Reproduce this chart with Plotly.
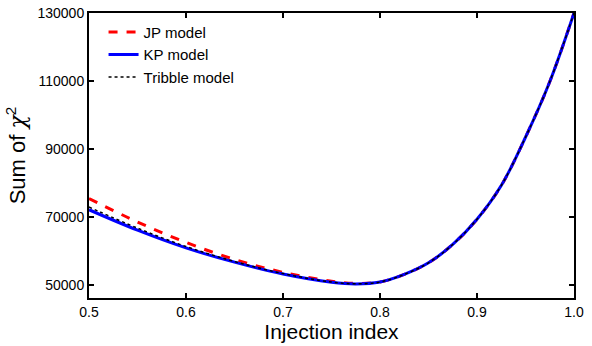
import plotly.graph_objects as go

x_vals = [0.50, 0.55, 0.60, 0.65, 0.70, 0.75, 0.775, 0.80, 0.825, 0.85, 0.875, 0.90, 0.925, 0.95, 0.975, 1.00]
kp_vals = [72200, 66200, 61000, 56800, 53300, 50900, 50400, 50950, 53200, 56600, 62000, 69400, 79300, 93500, 109800, 130000]
jp_vals = [75500, 68600, 62600, 57600, 53800, 51200, 50550, 51000, 53200, 56600, 62000, 69400, 79300, 93500, 109800, 130000]
tribble_vals = [73000, 66800, 61400, 57000, 53450, 50950, 50420, 50950, 53200, 56600, 62000, 69400, 79300, 93500, 109800, 130000]

y_ticks = [50000, 70000, 90000, 110000, 130000]
x_ticks = [0.5, 0.6, 0.7, 0.8, 0.9, 1.0]

fig = go.Figure()
fig.add_trace(go.Scatter(x=x_vals, y=jp_vals, mode="lines", name="JP model",
                         line=dict(color="#ff0000", width=3, dash="dash", shape="spline")))
fig.add_trace(go.Scatter(x=x_vals, y=kp_vals, mode="lines", name="KP model",
                         line=dict(color="#0000ff", width=3, shape="spline")))
fig.add_trace(go.Scatter(x=x_vals, y=tribble_vals, mode="lines", name="Tribble model",
                         line=dict(color="#000000", width=1.5, dash="dot", shape="spline")))

axis_common = dict(showline=True, linecolor="black", linewidth=2, mirror="ticks",
                   ticks="inside", ticklen=5, tickwidth=1.5, tickcolor="black",
                   showgrid=False, zeroline=False, automargin=False,
                   tickfont=dict(family="Liberation Sans, Arial", size=14, color="black"))

fig.update_layout(
    width=592, height=346,
    margin=dict(l=89, r=18, t=13, b=48),
    paper_bgcolor="white", plot_bgcolor="white",
    font=dict(family="Liberation Sans, Arial", color="black"),
    showlegend=True,
    legend=dict(x=0.03, y=0.99, xanchor="left", yanchor="top",
                bgcolor="rgba(0,0,0,0)", borderwidth=0,
                font=dict(size=15, color="black"), tracegroupgap=0),
    xaxis=dict(range=[0.5, 1.0], tickvals=x_ticks, ticktext=[f"{v:.1f}" for v in x_ticks],
               title=dict(text="Injection index", font=dict(size=21), standoff=2),
               **axis_common),
    yaxis=dict(range=[46270, 130000], tickvals=y_ticks, ticktext=[str(v) for v in y_ticks],
               title=dict(text="Sum of <span style=\"font-family:'DejaVu Serif'\"><i>χ</i></span><sup>2</sup>",
                          font=dict(size=22), standoff=6),
               **axis_common),
)

fig.write_html("out.html", config={"displayModeBar": False},
               post_script="document.body.style.margin='0';document.body.style.padding='0';")
